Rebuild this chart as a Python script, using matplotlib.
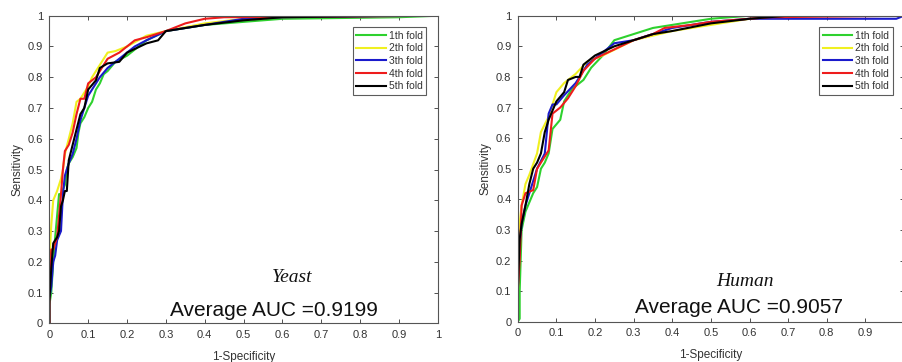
import matplotlib
matplotlib.use("Agg")
import matplotlib.pyplot as plt
import numpy as np

plt.rcParams['font.family'] = ['Liberation Sans', 'DejaVu Sans']

fold_labels = ["1th fold", "2th fold", "3th fold", "4th fold", "5th fold"]
fold_colors = ["#2ed12e", "#f0f020", "#1a1acc", "#ee1c1c", "#000000"]

# ---- Yeast ROC curves (FPR, TPR) ----
yeast_f1_x = [0, 0, 0.005, 0.01, 0.015, 0.02, 0.025, 0.03, 0.04, 0.045, 0.05, 0.06, 0.07, 0.075, 0.08, 0.09, 0.10, 0.11, 0.12, 0.13, 0.14, 0.15, 0.17, 0.20, 0.22, 0.25, 0.30, 0.40, 0.50, 0.60, 0.90, 1.0]
yeast_f1_y = [0, 0.06, 0.10, 0.20, 0.28, 0.35, 0.42, 0.42, 0.45, 0.50, 0.52, 0.54, 0.57, 0.62, 0.65, 0.67, 0.70, 0.72, 0.76, 0.78, 0.81, 0.82, 0.85, 0.87, 0.89, 0.92, 0.95, 0.97, 0.98, 0.99, 0.995, 1.0]
yeast_f2_x = [0, 0, 0.005, 0.01, 0.02, 0.03, 0.035, 0.04, 0.05, 0.06, 0.07, 0.08, 0.09, 0.10, 0.11, 0.13, 0.15, 0.17, 0.20, 0.25, 0.30, 0.40, 0.50, 0.60, 1.0]
yeast_f2_y = [0, 0.20, 0.32, 0.40, 0.43, 0.47, 0.50, 0.55, 0.60, 0.65, 0.72, 0.73, 0.75, 0.77, 0.80, 0.84, 0.88, 0.885, 0.90, 0.935, 0.95, 0.975, 0.99, 0.995, 1.0]
yeast_f3_x = [0, 0, 0.005, 0.01, 0.015, 0.02, 0.03, 0.035, 0.04, 0.05, 0.06, 0.07, 0.08, 0.09, 0.10, 0.12, 0.13, 0.15, 0.18, 0.20, 0.22, 0.25, 0.30, 0.40, 0.50, 0.60, 1.0]
yeast_f3_y = [0, 0.08, 0.12, 0.20, 0.22, 0.27, 0.30, 0.42, 0.48, 0.52, 0.55, 0.60, 0.66, 0.70, 0.74, 0.78, 0.80, 0.83, 0.86, 0.88, 0.90, 0.92, 0.95, 0.97, 0.99, 0.995, 1.0]
yeast_f4_x = [0, 0, 0.005, 0.01, 0.02, 0.03, 0.035, 0.04, 0.05, 0.06, 0.07, 0.08, 0.09, 0.10, 0.12, 0.13, 0.15, 0.18, 0.20, 0.22, 0.25, 0.30, 0.35, 0.40, 0.45, 1.0]
yeast_f4_y = [0, 0.15, 0.24, 0.24, 0.28, 0.42, 0.50, 0.56, 0.58, 0.62, 0.68, 0.73, 0.73, 0.78, 0.80, 0.82, 0.86, 0.88, 0.90, 0.92, 0.93, 0.95, 0.975, 0.99, 0.995, 1.0]
yeast_f5_x = [0, 0, 0.005, 0.01, 0.02, 0.025, 0.03, 0.035, 0.04, 0.045, 0.05, 0.06, 0.07, 0.08, 0.09, 0.10, 0.12, 0.13, 0.15, 0.18, 0.20, 0.25, 0.28, 0.30, 0.35, 0.40, 0.50, 0.60, 0.90, 1.0]
yeast_f5_y = [0, 0.07, 0.18, 0.26, 0.28, 0.30, 0.38, 0.40, 0.43, 0.43, 0.53, 0.58, 0.63, 0.68, 0.70, 0.76, 0.79, 0.83, 0.845, 0.85, 0.88, 0.91, 0.92, 0.95, 0.96, 0.97, 0.985, 0.995, 1.0, 1.0]

# ---- Human ROC curves (FPR, TPR) ----
human_f1_x = [0, 0.005, 0.005, 0.01, 0.02, 0.03, 0.04, 0.05, 0.06, 0.07, 0.08, 0.09, 0.11, 0.12, 0.14, 0.16, 0.17, 0.19, 0.22, 0.25, 0.30, 0.35, 0.40, 0.50, 0.60, 1.0]
human_f1_y = [0, 0.01, 0.10, 0.30, 0.36, 0.39, 0.42, 0.44, 0.50, 0.52, 0.55, 0.63, 0.66, 0.72, 0.76, 0.78, 0.79, 0.83, 0.87, 0.92, 0.94, 0.96, 0.97, 0.99, 1.0, 1.0]
human_f2_x = [0, 0, 0.003, 0.01, 0.02, 0.03, 0.05, 0.06, 0.08, 0.10, 0.12, 0.15, 0.18, 0.22, 0.30, 0.40, 0.50, 0.60, 0.70, 1.0]
human_f2_y = [0, 0.05, 0.30, 0.38, 0.45, 0.48, 0.55, 0.62, 0.67, 0.75, 0.78, 0.81, 0.85, 0.87, 0.92, 0.95, 0.97, 0.99, 1.0, 1.0]
human_f3_x = [0, 0, 0.005, 0.01, 0.02, 0.03, 0.05, 0.07, 0.08, 0.09, 0.10, 0.12, 0.15, 0.18, 0.22, 0.25, 0.30, 0.40, 0.50, 0.60, 0.98, 1.0]
human_f3_y = [0, 0.10, 0.25, 0.32, 0.38, 0.42, 0.50, 0.55, 0.68, 0.71, 0.71, 0.74, 0.78, 0.84, 0.88, 0.91, 0.92, 0.96, 0.98, 0.99, 0.99, 1.0]
human_f4_x = [0, 0, 0.005, 0.01, 0.02, 0.04, 0.05, 0.06, 0.08, 0.09, 0.11, 0.13, 0.15, 0.17, 0.20, 0.25, 0.30, 0.35, 0.38, 0.45, 0.50, 0.65, 1.0]
human_f4_y = [0, 0.10, 0.20, 0.38, 0.42, 0.43, 0.50, 0.52, 0.56, 0.68, 0.70, 0.73, 0.77, 0.82, 0.86, 0.89, 0.92, 0.94, 0.96, 0.97, 0.98, 0.995, 1.0]
human_f5_x = [0, 0, 0.005, 0.01, 0.02, 0.03, 0.04, 0.05, 0.06, 0.07, 0.08, 0.10, 0.12, 0.13, 0.15, 0.16, 0.17, 0.20, 0.25, 0.30, 0.35, 0.40, 0.50, 0.60, 0.70, 1.0]
human_f5_y = [0, 0.10, 0.27, 0.32, 0.38, 0.45, 0.50, 0.52, 0.55, 0.62, 0.66, 0.72, 0.75, 0.79, 0.80, 0.80, 0.84, 0.87, 0.90, 0.92, 0.94, 0.95, 0.975, 0.99, 1.0, 1.0]

yeast_curves = [(yeast_f1_x, yeast_f1_y), (yeast_f2_x, yeast_f2_y), (yeast_f3_x, yeast_f3_y),
                (yeast_f4_x, yeast_f4_y), (yeast_f5_x, yeast_f5_y)]
human_curves = [(human_f1_x, human_f1_y), (human_f2_x, human_f2_y), (human_f3_x, human_f3_y),
                (human_f4_x, human_f4_y), (human_f5_x, human_f5_y)]

tick_vals = [0, 0.1, 0.2, 0.3, 0.4, 0.5, 0.6, 0.7, 0.8, 0.9, 1]
tick_labels = ["0", "0.1", "0.2", "0.3", "0.4", "0.5", "0.6", "0.7", "0.8", "0.9", "1"]

fig = plt.figure(figsize=(9.02, 3.62), dpi=100)
ax1 = fig.add_axes([0.0547, 0.1069, 0.4306, 0.8497])
ax2 = fig.add_axes([0.574, 0.1113, 0.4283, 0.8453])

txtcol = "#333333"

def style(ax, curves):
    for (x, y), c, lab in zip(curves, fold_colors, fold_labels):
        ax.plot(x, y, color=c, lw=1.5, label=lab)
    ax.set_xlim(0, 1)
    ax.set_ylim(0, 1)
    ax.set_xticks(tick_vals)
    ax.set_xticklabels(tick_labels)
    ax.set_yticks(tick_vals)
    ax.set_yticklabels(tick_labels)
    ax.tick_params(direction='in', length=3, width=0.6, top=True, right=True,
                   labelsize=8, colors=txtcol, pad=4.5)
    for s in ax.spines.values():
        s.set_color("#555555")
        s.set_linewidth(0.8)
    ax.set_xlabel("1-Specificity", fontsize=8.5, color=txtcol, labelpad=8)
    ax.set_ylabel("Sensitivity", fontsize=8.5, color=txtcol, labelpad=3)
    leg = ax.legend(loc='upper right', fontsize=7.5, frameon=True, fancybox=False,
                    handlelength=2.8, handletextpad=0.3, borderaxespad=1.1,
                    labelspacing=0.25, borderpad=0.35)
    leg.get_frame().set_edgecolor("#333333")
    leg.get_frame().set_linewidth(0.8)
    for t in leg.get_texts():
        t.set_color(txtcol)
    return ax

style(ax1, yeast_curves)
style(ax2, human_curves)

ax1.text(0.625, 0.15, "Yeast", family=['Liberation Serif', 'DejaVu Serif'], style='italic',
         fontsize=14, ha='center', va='center', color="#111111")
ax1.text(0.577, 0.04, "Average AUC =0.9199", fontsize=15, ha='center', va='center', color="#111111")
ax2.text(0.588, 0.13, "Human", family=['Liberation Serif', 'DejaVu Serif'], style='italic',
         fontsize=14, ha='center', va='center', color="#111111")
ax2.text(0.574, 0.045, "Average AUC =0.9057", fontsize=15, ha='center', va='center', color="#111111")

fig.savefig("out.png", dpi=100)
